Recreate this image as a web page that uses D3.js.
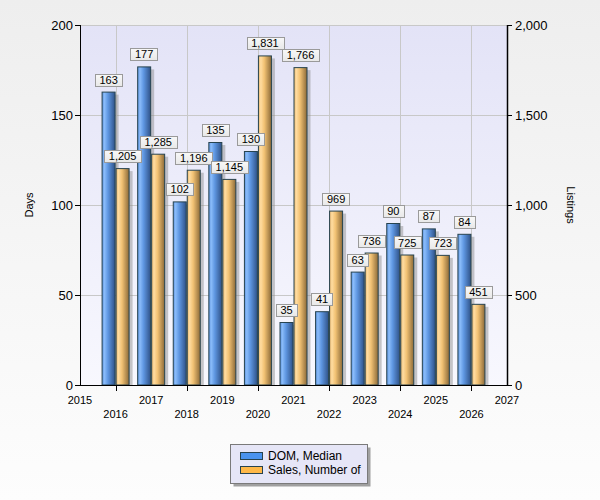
<!DOCTYPE html>
<html><head><meta charset="utf-8">
<script src="https://cdn.jsdelivr.net/npm/d3@7"></script>
<style>body{margin:0;padding:0;overflow:hidden}svg{display:block;font-family:"Liberation Sans",Arial,sans-serif}</style>
</head><body>
<script>
const years = [2016,2017,2018,2019,2020,2021,2022,2023,2024,2025,2026];
const domMedian = [163,177,102,135,130,35,41,63,90,87,84];
const salesCount = [1205,1285,1196,1145,1831,1766,969,736,725,723,451];
const leftTicks = [0,50,100,150,200];
const rightTicks = [0,500,1000,1500,2000];
const yearTicks = [2015,2016,2017,2018,2019,2020,2021,2022,2023,2024,2025,2026,2027];
const seriesNames = ["DOM, Median","Sales, Number of"];

const W=600,H=500, L=80, R=507, T=25, B=385;
const svg=d3.select("body").append("svg").attr("width",W).attr("height",H);
const defs=svg.append("defs");
function lg(id,dir,stops){const g=defs.append("linearGradient").attr("id",id);
 if(dir==="v"){g.attr("x1",0).attr("y1",0).attr("x2",0).attr("y2",1);} else {g.attr("x1",0).attr("y1",0).attr("x2",1).attr("y2",0);}
 stops.forEach(s=>g.append("stop").attr("offset",s[0]).attr("stop-color",s[1]));}
lg("bg","v",[[0,"#eeeeee"],[1,"#fdfdfd"]]);
lg("plot","v",[[0,"#e3e3f7"],[1,"#f8f8fe"]]);
lg("blue","h",[[0,"#5d93de"],[0.18,"#8abcfa"],[0.45,"#5f97e2"],[1,"#2f5288"]]);
lg("orange","h",[[0,"#e8b870"],[0.18,"#ffdca0"],[0.45,"#f2c274"],[1,"#8c6a38"]]);
lg("lbl","v",[[0,"#f8f8f8"],[1,"#e8e8e8"]]);

svg.append("rect").attr("width",W).attr("height",H).attr("fill","url(#bg)");

const x=d3.scaleLinear().domain([2015,2027]).range([L,R]);
const yL=d3.scaleLinear().domain([0,200]).range([B,T]);
const yR=d3.scaleLinear().domain([0,2000]).range([B,T]);

svg.append("rect").attr("x",L).attr("y",T).attr("width",R-L).attr("height",B-T).attr("fill","url(#plot)");

// grid
const g=svg.append("g");
g.selectAll(".hg").data(leftTicks.filter(d=>d>0)).join("line")
 .attr("x1",L).attr("x2",R).attr("y1",d=>Math.round(yL(d))+0.5).attr("y2",d=>Math.round(yL(d))+0.5)
 .attr("stroke","#c8c8c8").attr("stroke-width",1);
g.selectAll(".vg").data(yearTicks.filter(d=>d%2===0)).join("line")
 .attr("y1",T).attr("y2",B).attr("x1",d=>Math.round(x(d))+0.5).attr("x2",d=>Math.round(x(d))+0.5)
 .attr("stroke","#c8c8c8").attr("stroke-width",1);

const bw=14;
const data=years.map((yr,i)=>({yr,dom:domMedian[i],sales:salesCount[i]}));
// shadows
const sh=svg.append("g").attr("fill","#888").attr("opacity",0.45);
data.forEach(d=>{
 sh.append("rect").attr("x",x(d.yr)-bw+3).attr("y",yL(d.dom)+3).attr("width",bw).attr("height",B-yL(d.dom)-3);
 sh.append("rect").attr("x",x(d.yr)+3).attr("y",yR(d.sales)+3).attr("width",bw).attr("height",B-yR(d.sales)-3);
});
const bars=svg.append("g").attr("stroke","#27434f").attr("stroke-width",1);
bars.selectAll(".b").data(data).join("rect")
 .attr("x",d=>x(d.yr)-bw+0.5).attr("y",d=>yL(d.dom)+0.5).attr("width",bw-1).attr("height",d=>B-yL(d.dom)-0.5)
 .attr("fill","url(#blue)");
bars.selectAll(".o").data(data).join("rect")
 .attr("x",d=>x(d.yr)+0.5).attr("y",d=>yR(d.sales)+0.5).attr("width",bw-1).attr("height",d=>B-yR(d.sales)-0.5)
 .attr("fill","url(#orange)");

// axes
const ax=svg.append("g").attr("stroke","#000");
ax.append("line").attr("x1",L+0.5).attr("x2",L+0.5).attr("y1",T).attr("y2",B+1);
ax.append("line").attr("x1",R+0.5).attr("x2",R+0.5).attr("y1",T).attr("y2",B+1).attr("stroke-width",1.5);
ax.append("line").attr("x1",L).attr("x2",R+1).attr("y1",B+0.5).attr("y2",B+0.5);
ax.selectAll(".lt").data(leftTicks).join("line").attr("x1",L-5).attr("x2",L).attr("y1",d=>Math.round(yL(d))+0.5).attr("y2",d=>Math.round(yL(d))+0.5);
ax.selectAll(".rt").data(rightTicks).join("line").attr("x1",R).attr("x2",R+5).attr("y1",d=>Math.round(yR(d))+0.5).attr("y2",d=>Math.round(yR(d))+0.5);
ax.selectAll(".xt").data(yearTicks.filter(d=>d%2===0)).join("line").attr("y1",B).attr("y2",B+6).attr("x1",d=>Math.round(x(d))+0.5).attr("x2",d=>Math.round(x(d))+0.5);

const fmt=d3.format(",");
svg.selectAll(".ltl").data(leftTicks).join("text").attr("x",L-7).attr("y",d=>yL(d)+5).attr("text-anchor","end").attr("font-size",13).text(d=>fmt(d));
svg.selectAll(".rtl").data(rightTicks).join("text").attr("x",R+8).attr("y",d=>yR(d)+5).attr("text-anchor","start").attr("font-size",13).text(d=>fmt(d));
svg.selectAll(".xtl").data(yearTicks).join("text").attr("x",d=>x(d)).attr("y",d=>d%2? 404:418).attr("text-anchor","middle").attr("font-size",11).text(d=>d);

svg.append("text").attr("transform","translate(33,205) rotate(-90)").attr("text-anchor","middle").attr("font-size",11).text("Days");
svg.append("text").attr("transform","translate(567,205) rotate(90)").attr("text-anchor","middle").attr("font-size",11).text("Listings");

// labels
const lab=svg.append("g");
function label(cx,top,v){
 const t=lab.append("text").attr("font-size",11).attr("text-anchor","middle").text(fmt(v));
 const w=t.node().getComputedTextLength()+9, h=12;
 const by=top-6-h;
 lab.insert("rect","text").attr("x",Math.round(cx-w/2)+0.5).attr("y",Math.round(by)+0.5).attr("width",Math.round(w)).attr("height",h)
  .attr("fill","url(#lbl)").attr("stroke","#9a9a9a");
 t.attr("x",cx).attr("y",by+10);
}
data.forEach(d=>{ label(x(d.yr)-bw/2,yL(d.dom),d.dom); label(x(d.yr)+bw/2,yR(d.sales),d.sales); });

// legend
const lgd=svg.append("g");
lgd.append("rect").attr("x",233.5).attr("y",447.5).attr("width",137).attr("height",39).attr("fill","#a0a0a0");
lgd.append("rect").attr("x",230.5).attr("y",444.5).attr("width",137).attr("height",39).attr("fill","#e6e6f7").attr("stroke","#7a7a7a");
const cols=["#4a93ee","#ffb848"];
seriesNames.forEach((n,i)=>{
 lgd.append("rect").attr("x",240.5).attr("y",452.5+i*14).attr("width",22).attr("height",7).attr("fill",cols[i]).attr("stroke","#27434f");
 lgd.append("text").attr("x",268).attr("y",460+i*14).attr("font-size",12).text(n);
});
</script>
</body></html>
